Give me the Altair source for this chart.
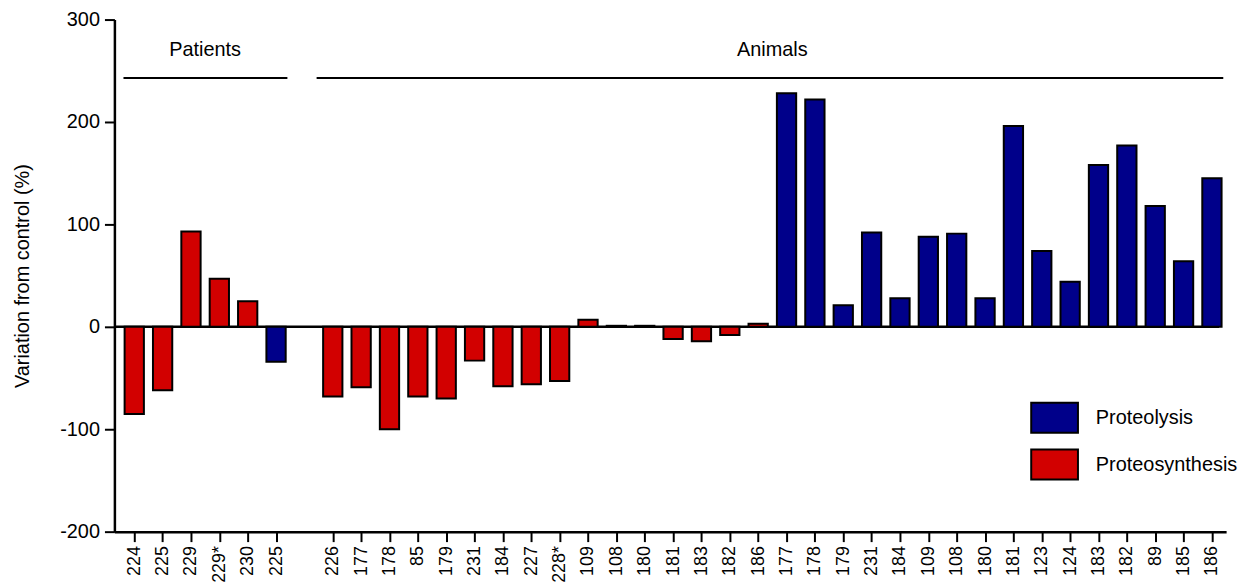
import altair as alt
import pandas as pd

# ---- data ----
patient_labels = ["224", "225", "229", "229*", "230", "225"]
patient_values = [-85, -62, 93, 47, 25, -34]
patient_types = ["Proteosynthesis"] * 5 + ["Proteolysis"]

animal_labels = ["226", "177", "178", "85", "179", "231", "184", "227", "228*",
                 "109", "108", "180", "181", "183", "182", "186",
                 "177", "178", "179", "231", "184", "109", "108", "180",
                 "181", "123", "124", "183", "182", "89", "185", "186"]
animal_values = [-68, -59, -100, -68, -70, -33, -58, -56, -53,
                 7, 1, 1, -12, -14, -8, 3,
                 228, 222, 21, 92, 28, 88, 91, 28,
                 196, 74, 44, 158, 177, 118, 64, 145]
animal_types = ["Proteosynthesis"] * 16 + ["Proteolysis"] * 16

type_names = ["Proteolysis", "Proteosynthesis"]
type_colors = ["#00008a", "#d20000"]

y_ticks = [-200, -100, 0, 100, 200, 300]

# ---- build table ----
rows = []
slot = 0
group_ranges = []
for gname, labs, vals, typs in [("Patients", patient_labels, patient_values, patient_types),
                                ("Animals", animal_labels, animal_values, animal_types)]:
    start = slot
    for l, v, t in zip(labs, vals, typs):
        rows.append({"slot": slot, "label": l, "value": v, "type": t, "group": gname})
        slot += 1
    group_ranges.append({"group": gname, "start": start, "end": slot - 1})
    slot += 1  # empty slot between groups

df = pd.DataFrame(rows)
df["x0"] = df["slot"] - 0.34
df["x1"] = df["slot"] + 0.34

n_slots = slot - 1
label_array = [""] * n_slots
for r in rows:
    label_array[r["slot"]] = r["label"]
label_expr = "[" + ",".join("'" + s + "'" for s in label_array) + "][datum.value]"

gdf = pd.DataFrame(group_ranges)
gdf["lx0"] = gdf["start"] - 0.38
gdf["lx1"] = gdf["end"] + 0.4
gdf.loc[gdf["group"] == "Animals", "lx0"] = gdf.loc[gdf["group"] == "Animals", "start"] - 0.57
gdf["mid"] = (gdf["start"] + gdf["end"]) / 2
gdf["ly"] = 243
gdf["ty"] = 270

FONT = "Liberation Sans"
W, H = 1118, 515
xdom = [-0.7, 38.5]

xscale = alt.Scale(domain=xdom, nice=False, zero=False)
yscale = alt.Scale(domain=[-200, 300], nice=False)

bars = alt.Chart(df).mark_bar(stroke="black", strokeWidth=2).encode(
    x=alt.X("x0:Q", scale=xscale,
            axis=alt.Axis(values=[r["slot"] for r in rows], labelExpr=label_expr,
                          tickCount=200,
                          labelAngle=-90, labelFontSize=18, labelColor="black",
                          labelOverlap=False, labelBound=False, labelFlush=False,
                          tickSize=10, tickWidth=2, tickColor="black",
                          domainWidth=2.5, domainColor="black", grid=False,
                          labelPadding=4, title=None, labelFont=FONT)),
    x2="x1:Q",
    y=alt.Y("value:Q", scale=yscale,
            axis=alt.Axis(values=y_ticks, labelExpr="'' + datum.value",
                          labelFontSize=20, labelColor="black", labelFont=FONT,
                          tickSize=10, tickWidth=2, tickColor="black",
                          domainWidth=2.5, domainColor="black", grid=False,
                          title="Variation from control (%)", titleFontSize=20,
                          titleFont=FONT, titleFontWeight="normal", titleColor="black",
                          titlePadding=27, labelPadding=5)),
    y2=alt.datum(0),
    color=alt.Color("type:N",
                    scale=alt.Scale(domain=type_names, range=type_colors),
                    legend=alt.Legend(title=None, orient="none", legendX=921, legendY=376,
                                      symbolType="M-1,-0.64H1V0.64H-1Z", symbolSize=2209,
                                      symbolStrokeColor="black", symbolStrokeWidth=2,
                                      labelFontSize=20, labelFont=FONT, labelColor="black",
                                      labelOffset=17, rowPadding=3)),
)

zero = alt.Chart(pd.DataFrame({"y": [0]})).mark_rule(color="black", strokeWidth=2.5).encode(
    y=alt.Y("y:Q", scale=yscale),
    x=alt.value(0), x2=alt.value(W - 7),
)

glines = alt.Chart(gdf).mark_rule(color="black", strokeWidth=2).encode(
    x=alt.X("lx0:Q", scale=xscale), x2="lx1:Q",
    y=alt.Y("ly:Q", scale=yscale),
)

gtext = alt.Chart(gdf).mark_text(fontSize=20, font=FONT, color="black").encode(
    x=alt.X("mid:Q", scale=xscale),
    y=alt.Y("ty:Q", scale=yscale),
    text="group:N",
)

chart = alt.layer(zero, bars, glines, gtext).properties(
    width=W, height=H,
    autosize=alt.AutoSizeParams(type="none"),
    padding={"left": 107, "top": 10, "right": 20, "bottom": 50},
).configure(font=FONT).configure_view(stroke=None)

chart.save("out.html", embed_options={"renderer": "svg", "actions": False})
